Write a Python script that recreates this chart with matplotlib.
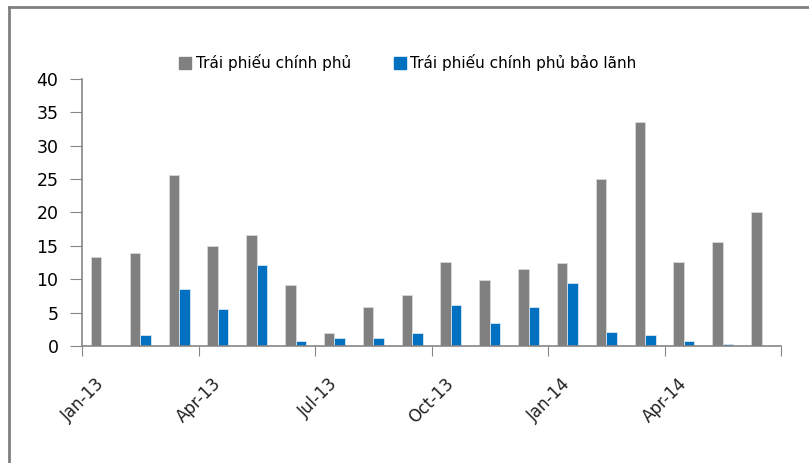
import numpy as np
import matplotlib
matplotlib.use("Agg")
import matplotlib.pyplot as plt
from matplotlib.patches import Patch

# monthly issuance, Jan-13 .. Jun-14
months = ["Jan-13", "Feb-13", "Mar-13", "Apr-13", "May-13", "Jun-13",
          "Jul-13", "Aug-13", "Sep-13", "Oct-13", "Nov-13", "Dec-13",
          "Jan-14", "Feb-14", "Mar-14", "Apr-14", "May-14", "Jun-14"]
chinh_phu = [13.4, 13.9, 25.6, 15.0, 16.6, 9.2, 1.9, 5.8, 7.7,
             12.6, 9.9, 11.6, 12.4, 25.0, 33.5, 12.6, 15.6, 20.0]
bao_lanh = [0.0, 1.6, 8.5, 5.6, 12.1, 0.8, 1.2, 1.2, 1.9,
            6.2, 3.5, 5.8, 9.4, 2.1, 1.6, 0.8, 0.3, 0.0]
label_cp = "Trái phiếu chính phủ"
label_bl = "Trái phiếu chính phủ bảo lãnh"

gray = "#808080"
blue = "#0070c0"
axis_col = "#868686"

fig = plt.figure(figsize=(8.09, 4.63), dpi=100)
ax = fig.add_axes([0.1014, 0.2527, 0.8640, 0.5767])

x = np.arange(len(months))
w = 0.27
ax.bar(x - w / 2, chinh_phu, width=w, color=gray, edgecolor="#d9d9d9", linewidth=0.6)
ax.bar(x + w / 2, bao_lanh, width=w, color=blue, edgecolor="#d9e6f2", linewidth=0.6)

ax.set_xlim(-0.5, len(months) - 0.5)
ax.set_ylim(0, 40)
ax.set_yticks(range(0, 41, 5))
ax.tick_params(axis="y", direction="out", length=9, color=axis_col,
               labelsize=12.5, pad=8)

# ticks between quarters, labels on every third month
ax.set_xticks(np.arange(-0.5, len(months), 3))
ax.set_xticklabels([])
ax.tick_params(axis="x", direction="out", length=7, color=axis_col)
for i in range(0, len(months), 3):
    ax.text(i - 0.15, -4.3, months[i], rotation=45, ha="right", va="top",
            fontsize=12, color="#222222", rotation_mode="anchor")

for s in ["top", "right"]:
    ax.spines[s].set_visible(False)
for s in ["left", "bottom"]:
    ax.spines[s].set_color(axis_col)
    ax.spines[s].set_linewidth(1.2)

handles = [Patch(color=gray, label=label_cp), Patch(color=blue, label=label_bl)]
fig.legend(handles=handles, loc="center", bbox_to_anchor=(0.504, 0.865), ncol=2,
           frameon=False, fontsize=11, handlelength=0.8, handleheight=0.8,
           handletextpad=0.3, columnspacing=2.8)

# outer frame (left and top only)
fig.add_artist(plt.Line2D([0.0117, 0.0117], [0, 0.985], transform=fig.transFigure,
                          color=gray, linewidth=2))
fig.add_artist(plt.Line2D([0.0117, 1.0], [0.985, 0.985], transform=fig.transFigure,
                          color=gray, linewidth=2))

fig.savefig("out.png", dpi=100)
